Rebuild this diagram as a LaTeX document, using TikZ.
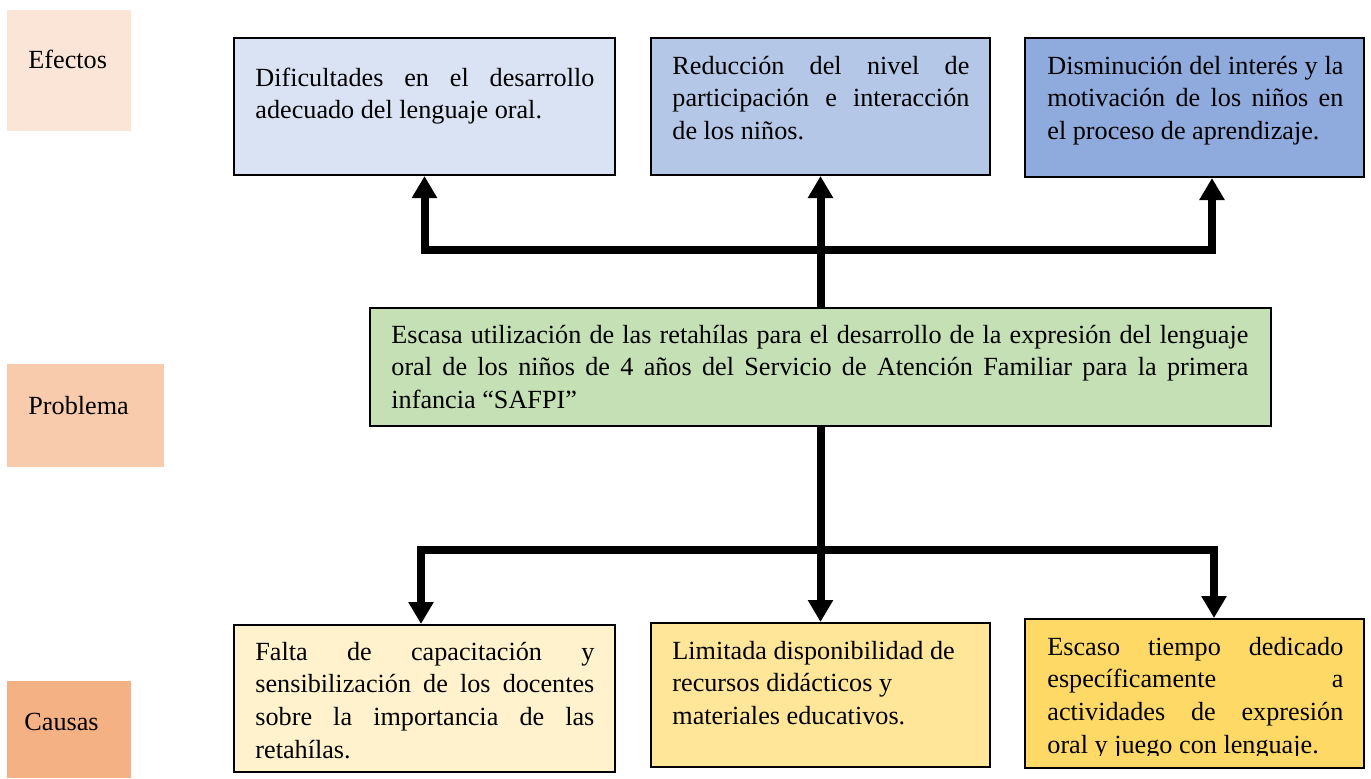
\documentclass[tikz,border=0pt]{standalone}
\usepackage{fontspec}
\setmainfont{Liberation Serif}
\usetikzlibrary{arrows.meta}
\definecolor{labE}{HTML}{FBE5D6}
\definecolor{labP}{HTML}{F8CBAD}
\definecolor{labC}{HTML}{F4B183}
\definecolor{eA}{HTML}{DAE3F3}
\definecolor{eB}{HTML}{B4C7E7}
\definecolor{eC}{HTML}{8FAADC}
\definecolor{pG}{HTML}{C5E0B4}
\definecolor{cA}{HTML}{FFF2CC}
\definecolor{cB}{HTML}{FFE699}
\definecolor{cC}{HTML}{FFD966}
\newcommand{\J}[2]{\hbox to #1{#2}}
\newcommand{\Lz}[1]{\hbox{#1}}
\tikzset{
  box/.style={draw=black, line width=1pt, anchor=north west, inner sep=0pt},
  labbox/.style={anchor=north west, inner sep=0pt, draw=none},
  tx/.style={anchor=base west, inner sep=0pt, font=\fontsize{13.1pt}{16.4pt}\selectfont},
  conn/.style={line width=4pt, line join=miter, -{Triangle[width=12pt,length=11pt]}},
  bar/.style={line width=4pt, line join=miter}
}
\begin{document}
\begin{tikzpicture}[x=0.5pt,y=-0.5pt]
\useasboundingbox (0,0) rectangle (1371,778);
% side labels
\node[labbox, fill=labE, minimum width=62pt, minimum height=60.5pt] (lE) at (7,10) {};
\node[tx] (lEt) at (28,68) {Efectos};
\node[labbox, fill=labP, minimum width=78.5pt, minimum height=51.5pt] (lP) at (7,364) {};
\node[tx] (lPt) at (28,414) {Problema};
\node[labbox, fill=labC, minimum width=62pt, minimum height=48.5pt] (lC) at (7,681) {};
\node[tx] (lCt) at (24,730) {Causas};
% effect boxes
\node[box, fill=eA, minimum width=190.5pt, minimum height=68.5pt] (e1) at (233,37) {};
\node[box, fill=eB, minimum width=169.5pt, minimum height=68.5pt] (e2) at (650,37) {};
\node[box, fill=eC, minimum width=169.5pt, minimum height=69.5pt] (e3) at (1024,37) {};
\node[tx] (e1t) at (255,86) {\vtop{\J{169.5pt}{Dificultades en el desarrollo}\Lz{adecuado del lenguaje oral.}}};
\node[tx] (e2t) at (672,74) {\vtop{\J{148.5pt}{Reducción del nivel de}\J{148.5pt}{participación e interacción}\Lz{de los niños.}}};
\node[tx] (e3t) at (1047,74) {\vtop{\J{148pt}{Disminución del interés y la}\J{148pt}{motivación de los niños en}\Lz{el proceso de aprendizaje.}}};
% problem box
\node[box, fill=pG, minimum width=450.5pt, minimum height=59pt] (p) at (369,307) {};
\node[tx] (pt) at (391,343) {\vtop{\J{428.5pt}{Escasa utilización de las retahílas para el desarrollo de la expresión del lenguaje}\J{428.5pt}{oral de los niños de 4 años del Servicio de Atención Familiar para la primera}\Lz{infancia “SAFPI”}}};
% cause boxes
\node[box, fill=cA, minimum width=190.5pt, minimum height=73.5pt] (c1) at (233,624) {};
\node[box, fill=cB, minimum width=169.5pt, minimum height=72pt] (c2) at (650,622) {};
\node[box, fill=cC, minimum width=169.5pt, minimum height=74.5pt] (c3) at (1024,618) {};
\node[tx] (c1t) at (255,660) {\vtop{\J{169.5pt}{Falta de capacitación y}\J{169.5pt}{sensibilización de los docentes}\J{169.5pt}{sobre la importancia de las}\Lz{retahílas.}}};
\node[tx] (c2t) at (672,659) {\vtop{\Lz{Limitada disponibilidad de}\Lz{recursos didácticos y}\Lz{materiales educativos.}}};
\begin{scope}
\clip (1026,620) rectangle (1361,755);
\node[tx] (c3t) at (1047,655) {\vtop{\J{148pt}{Escaso tiempo dedicado}\J{148pt}{específicamente a}\J{148pt}{actividades de expresión}\Lz{oral y juego con lenguaje.}}};
\end{scope}
% connectors
\coordinate (jt) at (819.5,250);
\coordinate (jb) at (819.5,550);
\coordinate (x3t) at (1212,0);
\coordinate (x1b) at (421,0);
\coordinate (x3b) at (1214,0);
\draw[conn] (p.north) -- (e2.south);
\draw[conn] (jt) -| (e1.south);
\draw[conn] (jt) -| (x3t |- e3.south);
\draw[conn] (p.south) -- (c2.north);
\draw[conn] (jb) -| (x1b |- c1.north);
\draw[conn] (jb) -| (x3b |- c3.north);
\end{tikzpicture}
\end{document}
